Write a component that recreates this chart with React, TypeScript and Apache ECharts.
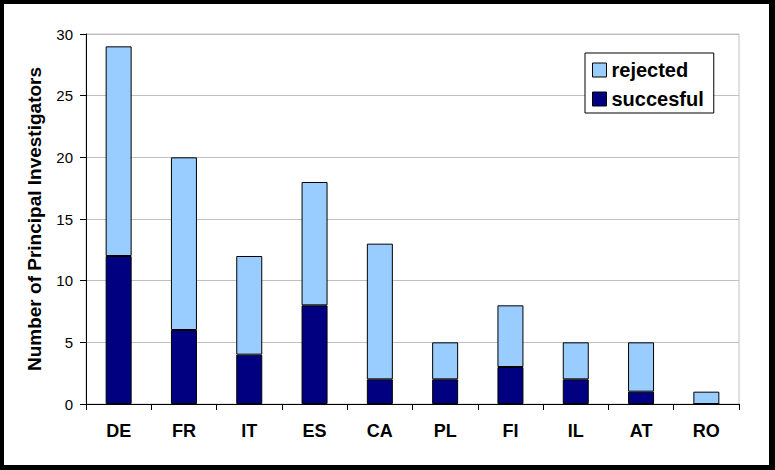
import React, { useEffect, useRef } from "react";
import * as echarts from "echarts";

const categories = ["DE", "FR", "IT", "ES", "CA", "PL", "FI", "IL", "AT", "RO"];
const successful = [12, 6, 4, 8, 2, 2, 3, 2, 1, 0];
const rejected = [17, 14, 8, 10, 11, 3, 5, 3, 4, 1];
const yTicks = { min: 0, max: 30, interval: 5 };

const FONT = "'Liberation Sans', Arial, sans-serif";

export default function App() {
  const ref = useRef<HTMLDivElement>(null);

  useEffect(() => {
    if (!ref.current) return;
    const chart = echarts.init(ref.current, null, { renderer: "svg" });
    chart.setOption({
      animation: false,
      backgroundColor: "#ffffff",
      textStyle: { fontFamily: FONT },
      grid: {
        left: 82,
        right: 30,
        top: 30,
        bottom: 61,
        show: true,
        borderColor: "#c0c0c0",
        borderWidth: 1,
      },
      legend: {
        data: ["rejected", "succesful"],
        orient: "vertical",
        left: 581,
        top: 49,
        icon: "rect",
        itemWidth: 14,
        itemHeight: 14,
        itemGap: 7,
        padding: [6, 10, 3, 7],
        borderColor: "#000",
        borderWidth: 1,
        backgroundColor: "#fff",
        textStyle: {
          fontFamily: FONT,
          fontSize: 20,
          fontWeight: "bold",
          color: "#000",
          lineHeight: 22,
        },
        itemStyle: { borderColor: "#000", borderWidth: 1 },
      },
      xAxis: {
        type: "category",
        data: categories,
        boundaryGap: true,
        axisLine: { lineStyle: { color: "#000", width: 1 } },
        axisTick: { show: true, length: 6, lineStyle: { color: "#000" }, alignWithLabel: false },
        axisLabel: {
          margin: 18,
          fontFamily: FONT,
          fontSize: 18,
          fontWeight: "bold",
          color: "#000",
        },
        splitLine: { show: false },
      },
      yAxis: {
        type: "value",
        min: yTicks.min,
        max: yTicks.max,
        interval: yTicks.interval,
        name: "Number of Principal Investigators",
        nameLocation: "middle",
        nameGap: 42,
        nameTextStyle: {
          fontFamily: FONT,
          fontSize: 19,
          fontWeight: "bold",
          color: "#000",
        },
        axisLine: { show: true, lineStyle: { color: "#000", width: 1 } },
        axisTick: { show: true, length: 6, lineStyle: { color: "#000" } },
        axisLabel: {
          margin: 13,
          fontFamily: FONT,
          fontSize: 15,
          color: "#000",
        },
        splitLine: { show: true, lineStyle: { color: "#c0c0c0", width: 1 } },
      },
      series: [
        {
          name: "succesful",
          type: "bar",
          stack: "total",
          data: successful,
          barWidth: 26,
          itemStyle: { color: "#000080", borderColor: "#000", borderWidth: 1 },
        },
        {
          name: "rejected",
          type: "bar",
          stack: "total",
          data: rejected,
          barWidth: 26,
          itemStyle: { color: "#99ccff", borderColor: "#000", borderWidth: 1 },
        },
      ],
    });
    return () => chart.dispose();
  }, []);

  return (
    <div
      style={{
        position: "absolute",
        left: 0,
        top: 0,
        width: 775,
        height: 470,
        background: "#000",
      }}
    >
      <div
        ref={ref}
        style={{
          position: "absolute",
          left: 4,
          top: 4,
          width: 765,
          height: 461,
          background: "#fff",
        }}
      />
    </div>
  );
}
